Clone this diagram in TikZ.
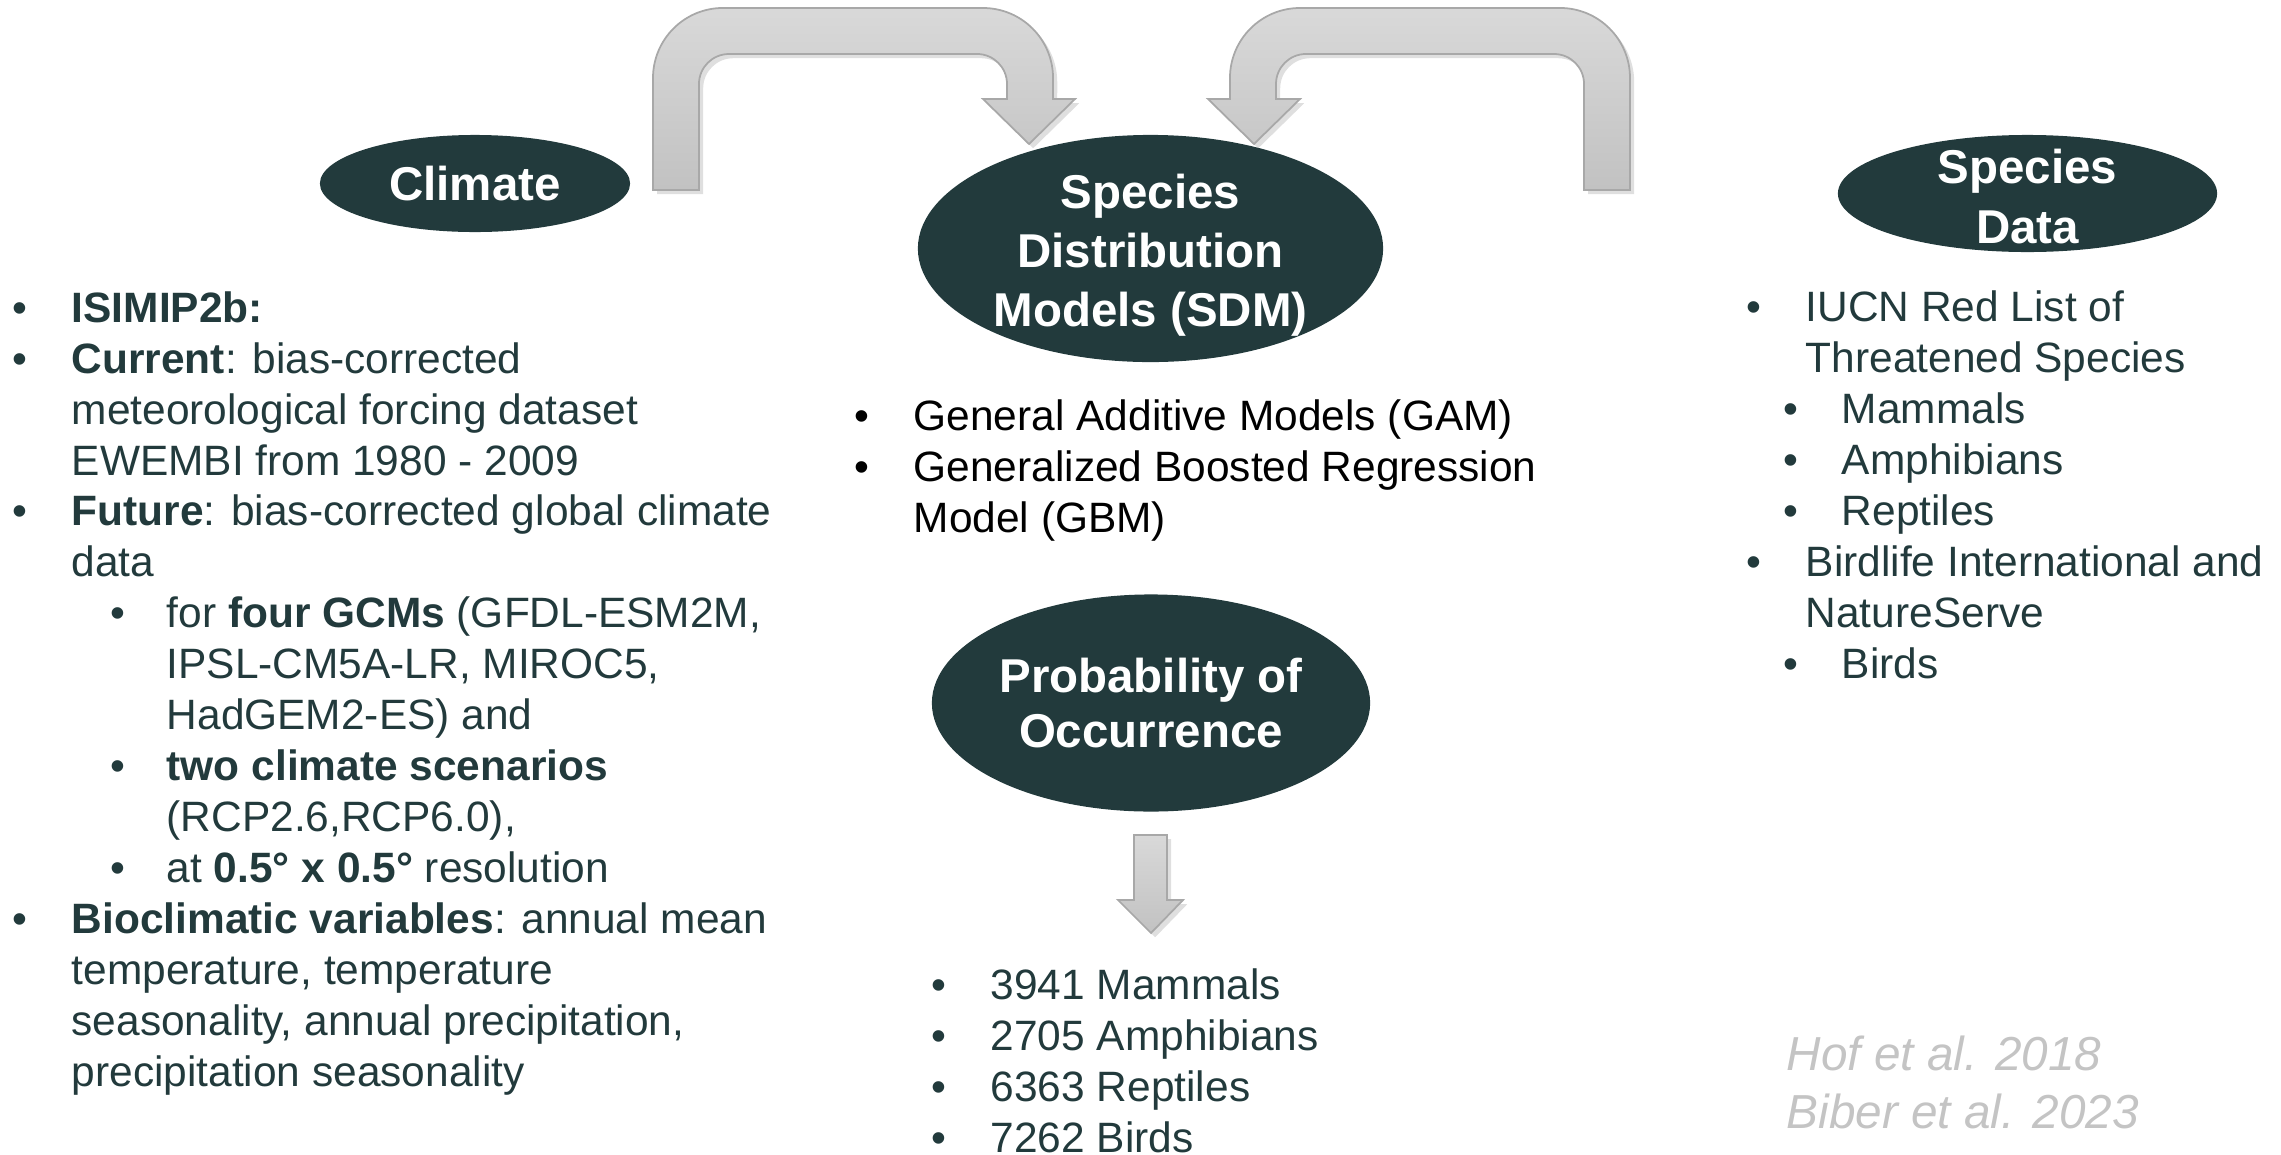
\documentclass[tikz,border=0pt]{standalone}
\usepackage{fontspec}
\setmainfont{Liberation Sans}
\usetikzlibrary{shapes.geometric,shadows}
\definecolor{deepteal}{HTML}{223A3C}
\definecolor{arrowedge}{HTML}{A8A8A8}
\definecolor{citegray}{HTML}{C4C4C4}
% bullets and hanging indents for the lists
\newcommand{\blt}{\makebox[0.59cm][l]{•}}
\newcommand{\bltin}{\hspace*{0.59cm}}
\newcommand{\subblt}{\hspace*{0.98cm}\makebox[0.56cm][l]{•}}
\newcommand{\subin}{\hspace*{1.54cm}}
\newcommand{\rsubblt}{\hspace*{0.37cm}\makebox[0.58cm][l]{•}}
\begin{document}
\begin{tikzpicture}[x=0.01cm, y=-0.01cm,
    blobtext/.style={text=white, align=center, font=\fontsize{13.5}{16.8}\selectfont\bfseries},
    blob/.style={ellipse, fill=deepteal, inner sep=-1cm, outer sep=0pt, blobtext},
    listtext/.style={anchor=base west, inner sep=0pt, align=left, text=deepteal,
      font=\fontsize{12.07}{14.49}\selectfont},
    bigarrow/.style={top color=black!15, bottom color=black!24, draw=arrowedge, line width=0.5pt,
      drop shadow={shadow xshift=1.2pt, shadow yshift=-1.2pt, opacity=0.25}}
  ]
  \useasboundingbox (0,0) rectangle (2281,1154);

  % the two bent arrows feeding the SDM
  \foreach \s in {1,-1}
    \path[bigarrow, shift={(1141.5,0)}, xscale=\s]
      (-488.5,190) -- (-488.5,78) arc[start angle=180, end angle=90, radius=0.7cm]
      -- (-158.5,8) arc[start angle=90, end angle=0, radius=0.7cm]
      -- (-88.5,99) -- (-66.5,99) -- (-112.5,144) -- (-158.5,99) -- (-134.5,99)
      -- (-134.5,84) arc[start angle=0, end angle=90, radius=0.3cm]
      -- (-412.5,54) arc[start angle=90, end angle=180, radius=0.3cm]
      -- (-442.5,190) -- cycle;
  % down arrow
  \path[bigarrow] (1134,835) -- (1167,835) -- (1167,900) -- (1183,900) -- (1151,933)
    -- (1118,900) -- (1134,900) -- cycle;

  \node[blob, minimum width=3.10cm, minimum height=0.97cm] (climate) at (475,183.5) {Climate};
  \node[blob, minimum width=4.65cm, minimum height=2.27cm] (sdm) at (1150.5,248.5) {};
  \node[blobtext] (sdmtext) at (1150.5,255) {Species\\Distribution\\Models (SDM)};
  \node[blob, minimum width=3.79cm, minimum height=1.17cm] (spdata) at (2027.5,193.5) {};
  \node[blobtext] (spdatatext) at (2027.5,196.5) {Species\\Data};
  \node[blob, minimum width=4.38cm, minimum height=2.17cm, font=\fontsize{13.5}{15.5}\selectfont\bfseries] (prob) at (1151,703) {Probability of\\Occurrence};

  \node[listtext] (climlist) at (12,1086.5) {%
    \blt\textbf{ISIMIP2b:}\\
    \blt\textbf{Current}: bias-corrected\\
    \bltin meteorological forcing dataset\\
    \bltin EWEMBI from 1980 - 2009\\
    \blt\textbf{Future}: bias-corrected global climate\\
    \bltin data\\
    \subblt for \textbf{four GCMs} (GFDL-ESM2M,\\
    \subin IPSL-CM5A-LR, MIROC5,\\
    \subin HadGEM2-ES) and\\
    \subblt\textbf{two climate scenarios}\\
    \subin (RCP2.6,RCP6.0),\\
    \subblt at \textbf{0.5° x 0.5°} resolution\\
    \blt\textbf{Bioclimatic variables}: annual mean\\
    \bltin temperature, temperature\\
    \bltin seasonality, annual precipitation,\\
    \bltin precipitation seasonality};
  \node[listtext, text=black] (sdmlist) at (854,532.5) {%
    \blt General Additive Models (GAM)\\
    \blt Generalized Boosted Regression\\
    \bltin Model (GBM)};
  \node[listtext] (countlist) at (931,1152.5) {%
    \blt 3941 Mammals\\
    \blt 2705 Amphibians\\
    \blt 6363 Reptiles\\
    \blt 7262 Birds};
  \node[listtext] (splist) at (1746,678) {%
    \blt IUCN Red List of\\
    \bltin Threatened Species\\
    \rsubblt Mammals\\
    \rsubblt Amphibians\\
    \rsubblt Reptiles\\
    \blt Birdlife International and\\
    \bltin NatureServe\\
    \rsubblt Birds};
  \node[listtext, text=citegray, font=\fontsize{13.57}{16.4}\selectfont\itshape] (cite) at (1786,1128.4) {%
    Hof et al. 2018\\
    Biber et al. 2023};
\end{tikzpicture}
\end{document}
